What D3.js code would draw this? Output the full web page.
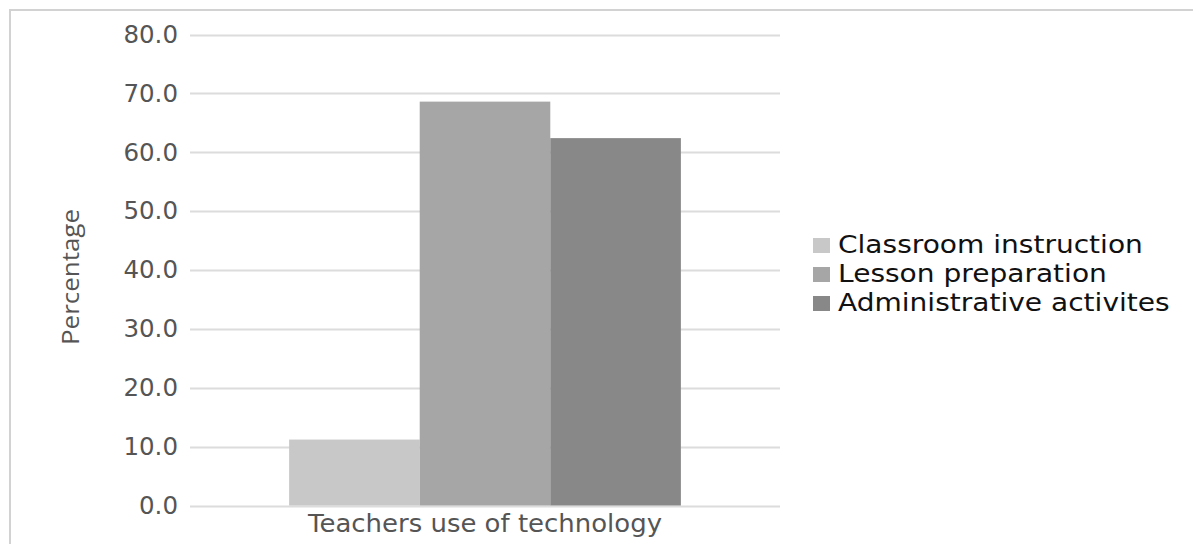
<!DOCTYPE html>
<html>
<head>
<meta charset="utf-8">
<script src="https://cdn.jsdelivr.net/npm/d3@7"></script>
<style>
  body { margin: 0; background: #fff; }
  svg { display: block; font-family: "DejaVu Sans", sans-serif; }
</style>
</head>
<body>
<svg id="chart" width="1193" height="544"></svg>
<script>
// chart data
const categories = ["Teachers use of technology"];
const seriesNames = ["Classroom instruction", "Lesson preparation", "Administrative activites"];
const seriesValues = [11.2, 68.6, 62.4];
const seriesColors = ["#c8c8c8", "#a6a6a6", "#888888"];
const yTicks = [0, 10, 20, 30, 40, 50, 60, 70, 80];

(function() {
    const svg = d3.select("#chart");

    // outer frame
    svg.append("path")
        .attr("d", "M10,544 V10 H1193")
        .attr("fill", "none")
        .attr("stroke", "#d2d2d2")
        .attr("stroke-width", 2);

    const plot = { left: 190, right: 780, top: 34.5, bottom: 505.5 };

    const y = d3.scaleLinear().domain([0, 80]).range([plot.bottom, plot.top]);
    const x0 = d3.scaleBand().domain(categories).range([plot.left, plot.right]).paddingInner(0).paddingOuter(0.253);
    const x1 = d3.scaleBand().domain(seriesNames).range([0, x0.bandwidth()]).padding(0);

    // gridlines
    svg.append("g")
        .selectAll("line")
        .data(yTicks)
        .join("line")
        .attr("x1", plot.left)
        .attr("x2", plot.right)
        .attr("y1", d => Math.round(y(d)) + 0.5)
        .attr("y2", d => Math.round(y(d)) + 0.5)
        .attr("stroke", "#dcdcdc")
        .attr("stroke-width", 2);

    // y tick labels
    const yAxis = d3.axisLeft(y).tickValues(yTicks).tickFormat(d3.format(".1f")).tickSize(0).tickPadding(12);
    const ga = svg.append("g").attr("transform", `translate(${plot.left},0)`).call(yAxis);
    ga.select(".domain").remove();
    ga.selectAll("text")
        .attr("font-size", 24.5)
        .attr("font-family", "DejaVu Sans, sans-serif")
        .attr("fill", "#555");

    // bars
    svg.append("g")
        .selectAll("rect")
        .data(seriesNames.map((s, i) => ({ cat: categories[0], name: s, value: seriesValues[i], color: seriesColors[i] })))
        .join("rect")
        .attr("x", d => x0(d.cat) + x1(d.name))
        .attr("y", d => y(d.value))
        .attr("width", x1.bandwidth())
        .attr("height", d => y(0) - y(d.value))
        .attr("fill", d => d.color);

    // category label
    svg.append("g")
        .selectAll("text")
        .data(categories)
        .join("text")
        .attr("x", d => x0(d) + x0.bandwidth() / 2)
        .attr("y", 532)
        .attr("text-anchor", "middle")
        .attr("font-size", 24)
        .attr("textLength", 354)
        .attr("lengthAdjust", "spacingAndGlyphs")
        .attr("fill", "#555")
        .text(d => d);

    // y axis title
    svg.append("text")
        .attr("transform", "translate(79,277) rotate(-90)")
        .attr("text-anchor", "middle")
        .attr("font-family", "Open Sans, sans-serif")
        .attr("font-size", 24)
        .attr("textLength", 136)
        .attr("lengthAdjust", "spacingAndGlyphs")
        .attr("fill", "#555")
        .text("Percentage");

    // legend
    const legend = svg.append("g").attr("transform", "translate(813,253)");
    const items = legend.selectAll("g")
        .data(seriesNames)
        .join("g")
        .attr("transform", (d, i) => `translate(0,${i * 29})`);
    items.append("rect")
        .attr("x", 0)
        .attr("y", -15)
        .attr("width", 17)
        .attr("height", 15)
        .attr("fill", (d, i) => seriesColors[i]);
    items.append("text")
        .attr("transform", "translate(25,0) scale(1.1,1)")
        .attr("font-size", 25.5)
        .attr("fill", "#111")
        .text(d => d);
})();
</script>
</body>
</html>
